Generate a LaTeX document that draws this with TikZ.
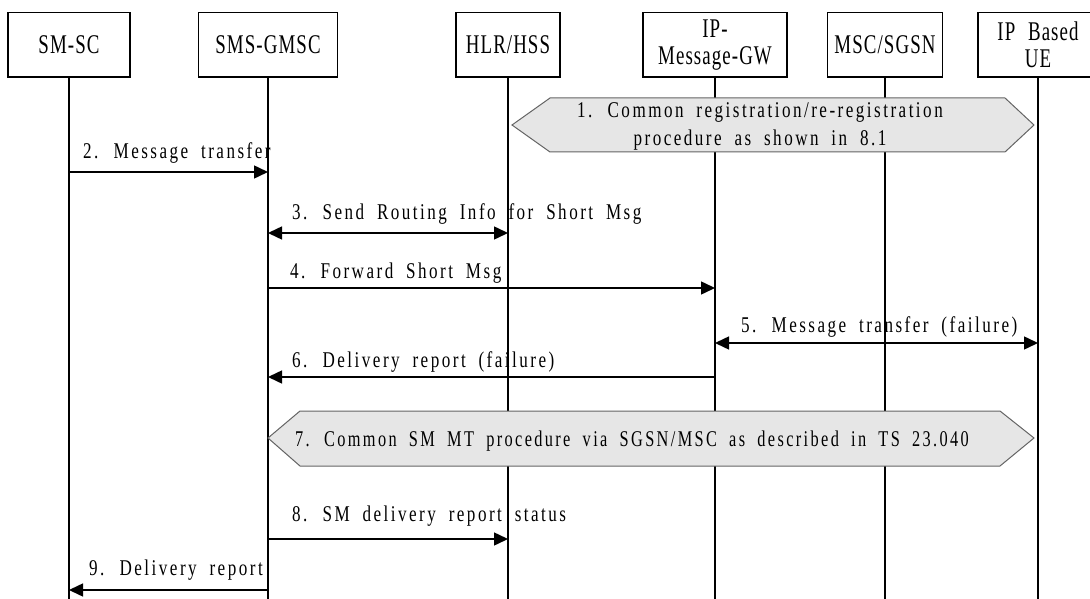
\documentclass[tikz,border=0pt]{standalone}
\usepackage{fontspec}
\usetikzlibrary{arrows.meta}
% condensed, letter-spaced serif for message labels and entity names
\newfontfamily\msgfont[FakeStretch=0.76,LetterSpace=11,WordSpace=1.9]{Liberation Serif}
\newfontfamily\entityfont[FakeStretch=0.7,LetterSpace=4,WordSpace=2.2]{Liberation Serif}
\definecolor{procfill}{RGB}{230,230,230}
\definecolor{procline}{RGB}{100,100,100}
\begin{document}
\begin{tikzpicture}[x=1pt,y=-1pt,
  entity/.style={draw,line width=1.6pt,minimum width=#1,minimum height=64.5pt,
    inner sep=0pt,align=center,font=\entityfont\fontsize{27}{27}\selectfont},
  life/.style={line width=1.6pt},
  msg/.style={line width=1.5pt,-{Triangle[length=14pt,width=13pt]}},
  msgboth/.style={line width=1.5pt,{Triangle[length=14pt,width=13pt]}-{Triangle[length=14pt,width=13pt]}},
  msglabel/.style={anchor=base west,inner sep=0pt,font=\msgfont\fontsize{22.5}{28}\selectfont},
  procbox/.style={draw=procline,fill=procfill,line width=1pt},
  proclabel/.style={inner sep=0pt,align=center,font=\msgfont\fontsize{22.5}{28}\selectfont}]
\useasboundingbox (0,0) rectangle (1090,599);

% entities
\node[entity=122pt] (smsc) at (69,44.75) {SM-SC};
\node[entity=139pt] (gmsc) at (268,44.75) {SMS-GMSC};
\node[entity=104pt] (hlr)  at (508,44.75) {HLR/HSS};
\node[entity=144pt] (ipgw) at (715,44.75) {IP-\\Message-GW};
\node[entity=115pt] (msc)  at (885,44.75) {MSC/SGSN};
\node[entity=120pt] (ue)   at (1038,44.75) {IP Based\\UE};

% lifelines
\coordinate (bottom) at (0,599);
\foreach \e in {smsc,gmsc,hlr,ipgw,msc,ue}
  \draw[life] (\e.south) -- (\e.south |- bottom);

% message rows
\coordinate (m2) at (0,172);
\coordinate (m3) at (0,233);
\coordinate (m4) at (0,288);
\coordinate (m5) at (0,343);
\coordinate (m6) at (0,377);
\coordinate (m8) at (0,539);
\coordinate (m9) at (0,590);

% 1. registration procedure
\draw[procbox] (512,125) -- (550,98) -- (1005,98) -- (1034,125) -- (1005,152) -- (550,152) -- cycle;
\node[proclabel] (p1) at (760,126) {1. Common registration/re-registration\\procedure as shown in 8.1};

% 2. - 6.
\draw[msg] (smsc |- m2) -- (gmsc |- m2);
\node[msglabel] (l2) at (83,159) {2. Message transfer};
\draw[msgboth] (gmsc |- m3) -- (hlr |- m3);
\node[msglabel] (l3) at (292,219) {3. Send Routing Info for Short Msg};
\draw[msg] (gmsc |- m4) -- (ipgw |- m4);
\node[msglabel] (l4) at (290,278) {4. Forward Short Msg};
\draw[msgboth] (ipgw |- m5) -- (ue |- m5);
\node[msglabel] (l5) at (741,332) {5. Message transfer (failure)};
\draw[msg] (ipgw |- m6) -- (gmsc |- m6);
\node[msglabel] (l6) at (292,367) {6. Delivery report (failure)};

% 7. SM MT procedure
\draw[procbox] (268,438) -- (300,411) -- (1000,411) -- (1034,438) -- (1000,466) -- (300,466) -- cycle;
\node[proclabel,anchor=base] (p7) at (632,446) {\scalebox{0.955}[1]{7. Common SM MT procedure via SGSN/MSC as described in TS 23.040}};

% 8. - 9.
\draw[msg] (gmsc |- m8) -- (hlr |- m8);
\node[msglabel] (l8) at (292,521) {8. SM delivery report status};
\draw[msg] (gmsc |- m9) -- (smsc |- m9);
\node[msglabel] (l9) at (89,575) {9. Delivery report};
\end{tikzpicture}
\end{document}
